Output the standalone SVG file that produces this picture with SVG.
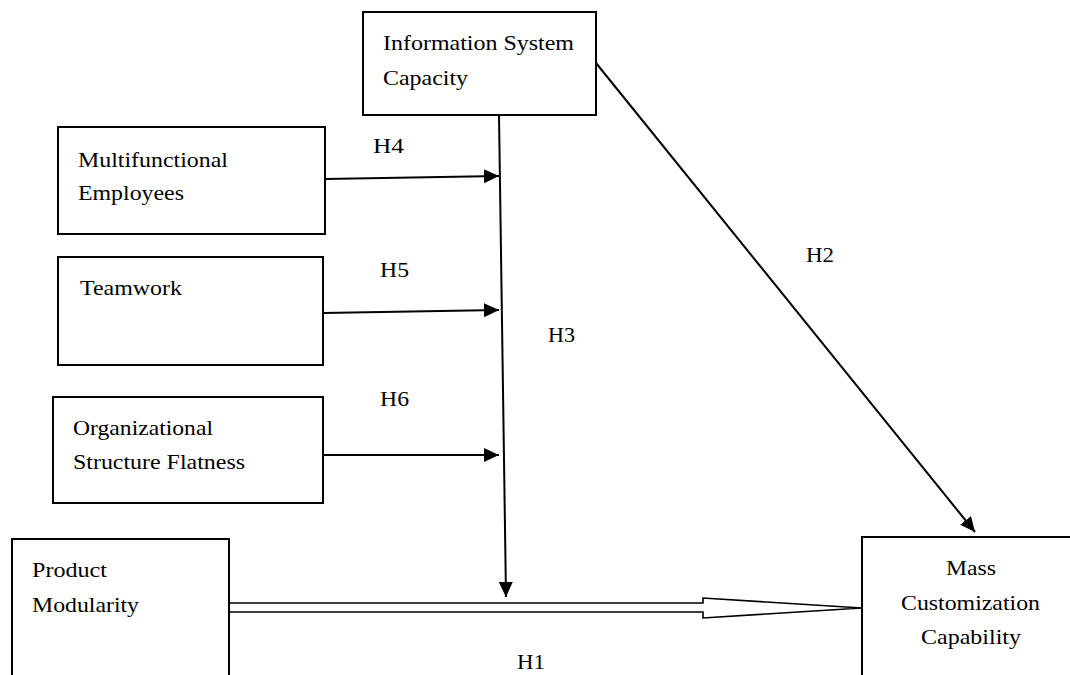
<svg xmlns="http://www.w3.org/2000/svg" width="1070" height="675" viewBox="0 0 1070 675">
<style>
.box{fill:#fff;stroke:#000;stroke-width:2}
.t{font-family:"Liberation Serif","Times New Roman",serif;font-size:22px;fill:#000}
.c{stroke:#000;stroke-width:2;fill:none}
</style>
<defs>
<marker id="ah" markerUnits="userSpaceOnUse" markerWidth="15" markerHeight="14" refX="15" refY="7" orient="auto">
<path d="M0,0 L15,7 L0,14 z" fill="#000"/>
</marker>
</defs>
<rect width="1070" height="675" fill="#fff"/>
<g id="connectors">
<line class="c" x1="499" y1="115" x2="506" y2="597" marker-end="url(#ah)"/>
<line class="c" x1="325" y1="179" x2="499" y2="176" marker-end="url(#ah)"/>
<line class="c" x1="323" y1="313" x2="499" y2="310" marker-end="url(#ah)"/>
<line class="c" x1="323" y1="455" x2="499" y2="455" marker-end="url(#ah)"/>
<line class="c" x1="596" y1="63" x2="975" y2="532" marker-end="url(#ah)"/>
<polygon points="229,603 703,603 703,598 862,608 703,618 703,612 229,612" fill="#fff" stroke="#000" stroke-width="1.6"/>
<text class="t" x="373" y="153" textLength="31" lengthAdjust="spacingAndGlyphs">H4</text>
<text class="t" x="380" y="277" textLength="29" lengthAdjust="spacingAndGlyphs">H5</text>
<text class="t" x="380" y="406" textLength="29" lengthAdjust="spacingAndGlyphs">H6</text>
<text class="t" x="548" y="342" textLength="27" lengthAdjust="spacingAndGlyphs">H3</text>
<text class="t" x="806" y="262" textLength="28" lengthAdjust="spacingAndGlyphs">H2</text>
<text class="t" x="517" y="669" textLength="28" lengthAdjust="spacingAndGlyphs">H1</text>
</g>
<g id="info-system">
<rect class="box" x="363" y="12" width="233" height="103"/>
<text class="t" x="383" y="50" textLength="191" lengthAdjust="spacingAndGlyphs">Information System</text>
<text class="t" x="383" y="85" textLength="85" lengthAdjust="spacingAndGlyphs">Capacity</text>
</g>
<g id="multifunctional">
<rect class="box" x="58" y="127" width="267" height="107"/>
<text class="t" x="78" y="167" textLength="150" lengthAdjust="spacingAndGlyphs">Multifunctional</text>
<text class="t" x="78" y="200" textLength="106" lengthAdjust="spacingAndGlyphs">Employees</text>
</g>
<g id="teamwork">
<rect class="box" x="58" y="257" width="265" height="108"/>
<text class="t" x="80" y="295" textLength="102" lengthAdjust="spacingAndGlyphs">Teamwork</text>
</g>
<g id="org-structure">
<rect class="box" x="53" y="397" width="270" height="106"/>
<text class="t" x="73" y="435" textLength="140" lengthAdjust="spacingAndGlyphs">Organizational</text>
<text class="t" x="73" y="469" textLength="172" lengthAdjust="spacingAndGlyphs">Structure Flatness</text>
</g>
<g id="product-modularity">
<rect class="box" x="12" y="539" width="217" height="150"/>
<text class="t" x="32" y="577" textLength="75" lengthAdjust="spacingAndGlyphs">Product</text>
<text class="t" x="32" y="612" textLength="107" lengthAdjust="spacingAndGlyphs">Modularity</text>
</g>
<g id="mass-customization">
<rect class="box" x="862" y="537" width="230" height="150"/>
<text class="t" x="946" y="575" textLength="50" lengthAdjust="spacingAndGlyphs">Mass</text>
<text class="t" x="901" y="610" textLength="139" lengthAdjust="spacingAndGlyphs">Customization</text>
<text class="t" x="921" y="644" textLength="100" lengthAdjust="spacingAndGlyphs">Capability</text>
</g>
</svg>
